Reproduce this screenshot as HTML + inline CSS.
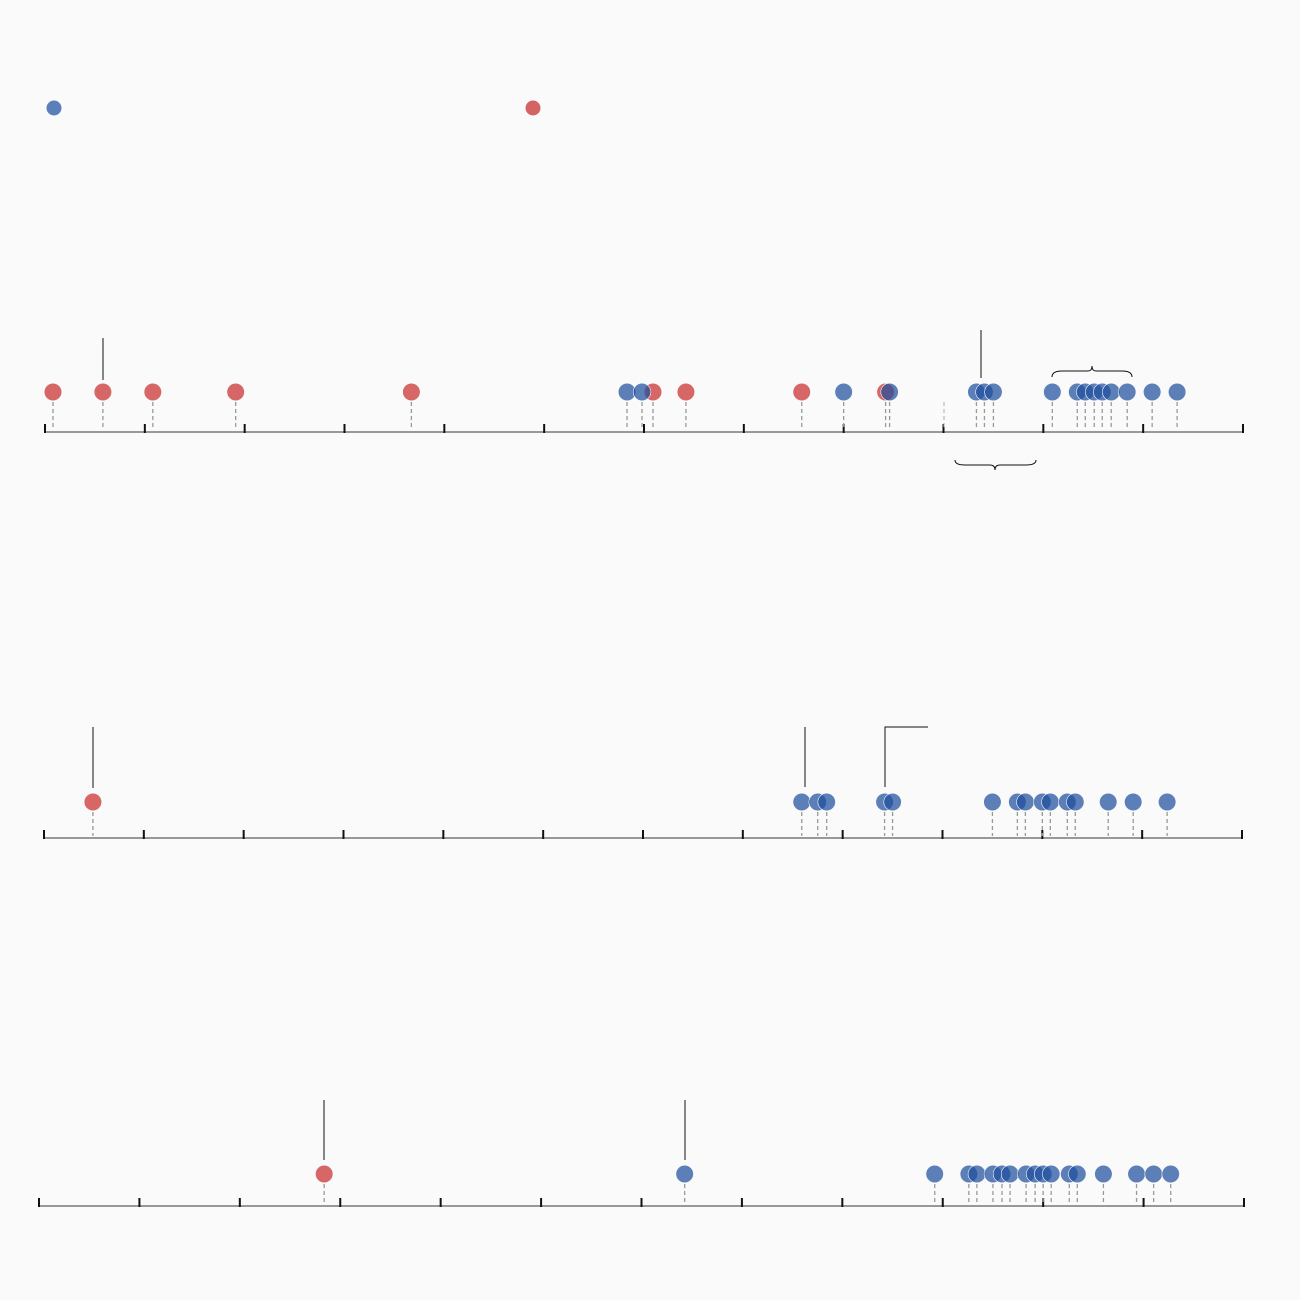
<!DOCTYPE html>
<html><head><meta charset="utf-8"><style>
html,body{margin:0;padding:0;background:#fafafa;}
svg{display:block;}
</style></head><body>
<svg id="chart" width="1300" height="1300" xmlns="http://www.w3.org/2000/svg">
<rect width="1300" height="1300" fill="#fafafa"/>
<g>
<circle cx="54" cy="108" r="7.5" fill="#5b7fbb"/>
<circle cx="533" cy="108" r="7.5" fill="#d46464"/>
</g>
</svg>
<script>
// Data values on a 0..1200 domain per row
const row1Red = [8, 58, 108, 191, 367, 609, 642, 758, 842];
const row1Blue = [583, 598, 800, 846, 933, 941, 950, 1009, 1034, 1042, 1051, 1059, 1068, 1084, 1109, 1134];
const row2Red = [49];
const row2Blue = [759, 775, 784, 842, 850, 950, 975, 983, 1000, 1008, 1025, 1033, 1066, 1091, 1125];
const row3Red = [284];
const row3Blue = [643, 892, 926, 934, 950, 959, 967, 983, 992, 1000, 1008, 1026, 1034, 1060, 1093, 1110, 1127];
const tickValues = [0,100,200,300,400,500,600,700,800,900,1000,1100,1200];

const svg = document.getElementById('chart');
const NS = 'http://www.w3.org/2000/svg';
function mk(tag, attrs){const e=document.createElementNS(NS,tag);for(const k in attrs)e.setAttribute(k,attrs[k]);svg.appendChild(e);return e;}

const rows = [
 {x0:45,x1:1243,axisY:432,dotY:392,red:row1Red,blue:row1Blue},
 {x0:44,x1:1242,axisY:838,dotY:802,red:row2Red,blue:row2Blue},
 {x0:39,x1:1244,axisY:1206,dotY:1174,red:row3Red,blue:row3Blue}
];

rows.forEach((r,ri)=>{
  const sx = v => r.x0 + (v/1200)*(r.x1-r.x0);
  const ax = mk('line',{x1:r.x0,x2:r.x1,y1:r.axisY,y2:r.axisY,stroke:'#777','stroke-width':1.5});
  
  
  tickValues.forEach(t=>{
    const tk = mk('line',{x1:sx(t),x2:sx(t),y1:r.axisY-8,y2:r.axisY+1,stroke:'#111','stroke-width':2});
    
    
  });
  const all = r.red.concat(r.blue);
  all.forEach(v=>{
    const st = mk('line',{x1:sx(v),x2:sx(v),y1:r.dotY+10,y2:r.axisY-2,stroke:'#999','stroke-width':1.3,'stroke-dasharray':'4,3'});
    
    
  });
  r.red.forEach(v=>{
    const c = mk('circle',{cx:sx(v),cy:r.dotY,r:8.8,fill:'#d35555','fill-opacity':0.9,stroke:'#fafafa','stroke-width':0.6});
    
    
  });
  r.blue.forEach(v=>{
    const c = mk('circle',{cx:sx(v),cy:r.dotY,r:8.8,fill:'#1f4f9e','fill-opacity':0.72,stroke:'#fafafa','stroke-width':0.6});
    
    
  });
});

// annotations
const ann = [
 'M103,338 V380','M981,330 V378','M944,402 V428',
 'M93,727 V788','M805,727 V787','M885,787 V727 H928',
 'M324,1100 V1160','M685,1100 V1160',
 'M1052,377 Q1052,371 1062,371 L1088,371 Q1092,371 1092,366 Q1092,371 1096,371 L1122,371 Q1132,371 1132,377',
 'M955,460 Q955,465 965,465 L990,465 Q995,465 995,470 Q995,465 1000,465 L1026,465 Q1036,465 1036,460'
];
ann.forEach((d,i)=>{
  const p = mk('path',{d:d,fill:'none',stroke:(i===2?'#aaa':'#111'),'stroke-width':1,'stroke-dasharray':(i===2?'4,3':'none')});
  
  
});
</script>
</body></html>
